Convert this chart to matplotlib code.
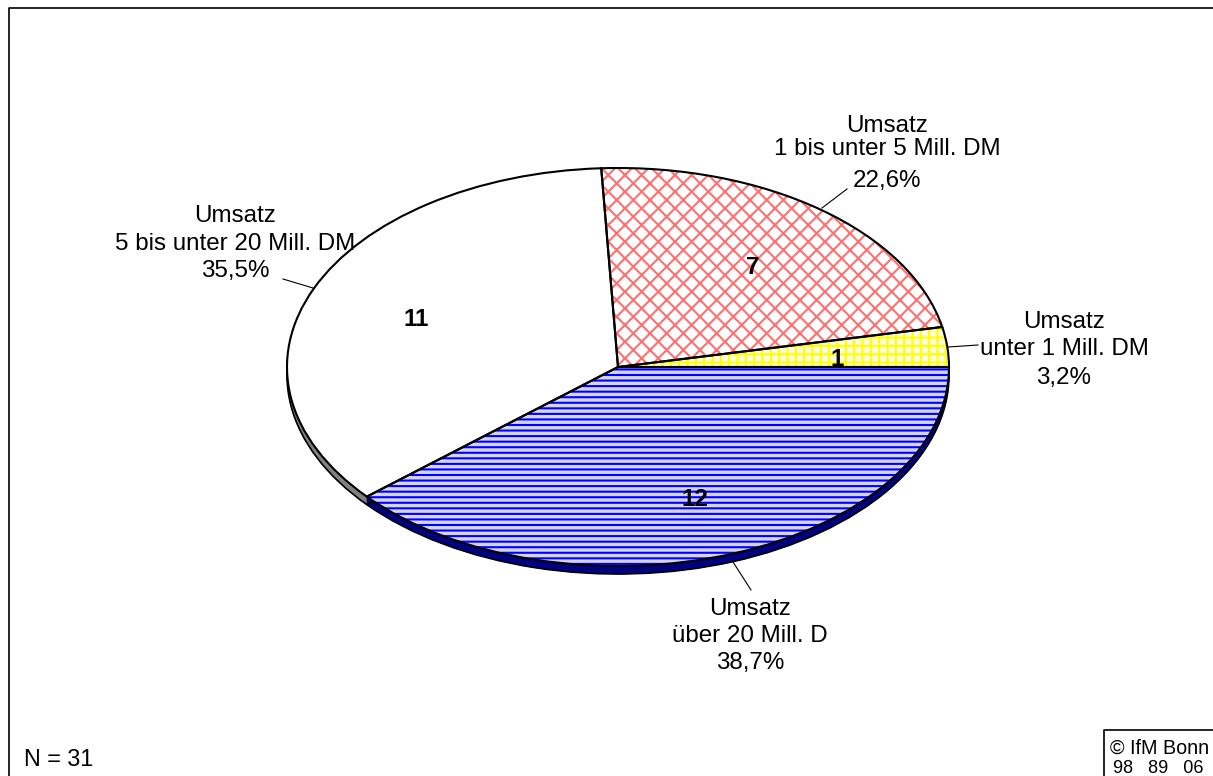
import matplotlib
matplotlib.use('Agg')
import matplotlib.pyplot as plt

plt.rcParams['font.family'] = ['Liberation Sans', 'DejaVu Sans']
plt.rcParams['hatch.linewidth'] = 1.5

# Anzahl der Unternehmen je Umsatzklasse
werte = [1, 7, 11, 12]
anteile = ['3,2%', '22,6%', '35,5%', '38,7%']
klassen = ['unter 1 Mill. DM', '1 bis unter 5 Mill. DM', '5 bis unter 20 Mill. DM', 'über 20 Mill. D']

farben = ['#ffffe0', 'white', 'white', '#d4d4ff']
hatch_farben = ['#ffff00', '#ff7070', 'white', '#0000ff']
hatches = ['++', 'xx', '', '---']
seiten = ['white', 'white', '#808080', '#000080']

B, H = 1213, 776
cx, cy = 618, 367
rx, ry = 331, 199
tiefe = 8
fs = 17.4

fig = plt.figure(figsize=(B / 100, H / 100), dpi=100)

# Kreis wird durch die Achsenskalen zur Ellipse gestaucht
ax = fig.add_axes([0, 0, 1, 1])

# Seitenwand
for d in range(tiefe, 0, -1):
    w, _ = ax.pie(werte, colors=seiten, center=(0, -d / ry), frame=True, wedgeprops={'linewidth': 0})
    for s in w:
        s.set_edgecolor(s.get_facecolor())
        s.set_linewidth(0.5)
ax.pie(werte, colors=['none'], center=(0, -tiefe / ry), frame=True,
       wedgeprops={'linewidth': 1.2, 'edgecolor': 'black', 'fill': False})

# Deckfläche mit Schraffur
w, _ = ax.pie(werte, colors=farben, hatch=hatches, frame=True, wedgeprops={'linewidth': 0})
for s, c in zip(w, hatch_farben):
    s.set_edgecolor(c)
    s.set_linewidth(0)
ax.pie(werte, colors=['none'], frame=True, wedgeprops={'linewidth': 1.5, 'edgecolor': 'black', 'fill': False})

ax.set_aspect('auto')
ax.set_xlim(-cx / rx, (B - cx) / rx)
ax.set_ylim((cy - H) / ry, cy / ry)
ax.axis('off')

# Beschriftungen in Pixelkoordinaten
ov = fig.add_axes([0, 0, 1, 1], facecolor='none')
ov.set_xlim(0, B)
ov.set_ylim(H, 0)
ov.axis('off')

ov.plot([9, 9, B + 5], [H + 5, 8, 8], color='black', lw=1.2, clip_on=False)
ov.plot([1104, 1104, B], [H, 730, 730], color='black', lw=1.2)

label_x = [1064, 887, 235, 750]
label_y = [(328, 355, 384), (132, 155, 187), (222, 250, 277), (615, 642, 669)]
for k, a, x, ys in zip(klassen, anteile, label_x, label_y):
    for zeile, y in zip(['Umsatz', k, a], ys):
        ov.text(x, y, zeile, ha='center', va='baseline', fontsize=fs)

zahl_pos = [(837, 360), (753, 268), (416, 320), (695, 500)]
for n, (x, y) in zip(werte, zahl_pos):
    ov.text(x, y, str(n), ha='center', va='center', fontsize=fs, fontweight='bold')

leader_x = [(948, 978), (822, 847), (313, 283), (733, 751)]
leader_y = [(347, 345), (208, 189), (288, 279), (562, 590)]
for lx, ly in zip(leader_x, leader_y):
    ov.plot(lx, ly, color='black', lw=0.8)

ov.text(24, 766, 'N = 31', ha='left', va='baseline', fontsize=16.8)
ov.text(1110, 754, '© IfM Bonn', ha='left', va='baseline', fontsize=14.2)
ov.text(1113, 773, '98   89   06', ha='left', va='baseline', fontsize=13)

fig.savefig('out.png', dpi=100)
